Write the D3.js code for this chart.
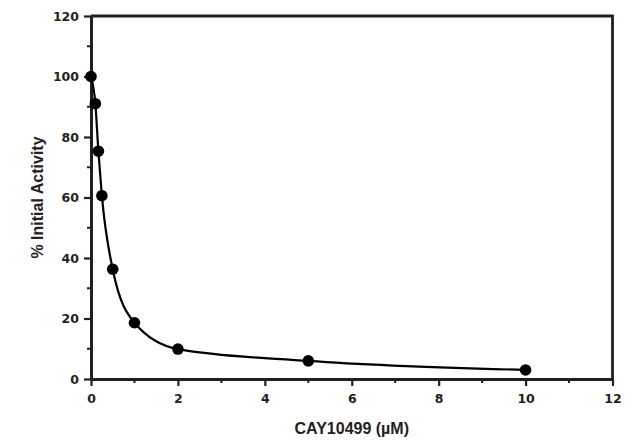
<!DOCTYPE html>
<html><head><meta charset="utf-8">
<script src="https://cdn.jsdelivr.net/npm/d3@7"></script>
<style>body{margin:0;background:#fff}svg{display:block}</style>
</head><body><div id="c"></div>
<script>
const concentration = [0, 0.1, 0.17, 0.25, 0.5, 1, 2, 5, 10];
const activity = [100, 91, 75.3, 60.6, 36.3, 18.6, 9.9, 6.0, 3.0];
const xTicks = [0, 2, 4, 6, 8, 10, 12];
const yTicks = [0, 20, 40, 60, 80, 100, 120];
const xMinor = [1, 3, 5, 7, 9, 11];
const yMinor = [10, 30, 50, 70, 90, 110];

const W = 640, H = 446;
const col = "#231f20";
const svg = d3.select("#c").append("svg").attr("width", W).attr("height", H);
const x = d3.scaleLinear().domain([0, 12]).range([91, 612.5]);
const y = d3.scaleLinear().domain([0, 120]).range([379, 16]);

// frame top/right
svg.append("path").attr("d", `M${x(0)},${y(120)}H${x(12)}V${y(0)}`)
  .attr("fill", "none").attr("stroke", col).attr("stroke-width", 2.8);

// minor ticks
svg.append("g").selectAll("line").data(xMinor).join("line")
  .attr("x1", d => x(d)).attr("x2", d => x(d)).attr("y1", y(0)).attr("y2", y(0) + 4)
  .attr("stroke", col).attr("stroke-width", 2);
svg.append("g").selectAll("line").data(yMinor).join("line")
  .attr("y1", d => y(d)).attr("y2", d => y(d)).attr("x1", x(0)).attr("x2", x(0) - 4)
  .attr("stroke", col).attr("stroke-width", 2);

const xAxis = svg.append("g").attr("transform", `translate(0,${y(0)})`)
  .call(d3.axisBottom(x).tickValues(xTicks).tickSize(7).tickPadding(8).tickSizeOuter(0));
const yAxis = svg.append("g").attr("transform", `translate(${x(0)},0)`)
  .call(d3.axisLeft(y).tickValues(yTicks).tickSize(7).tickPadding(5).tickSizeOuter(0));
[xAxis, yAxis].forEach(g => {
  g.select(".domain").attr("stroke", col).attr("stroke-width", 3);
  g.selectAll(".tick line").attr("stroke", col).attr("stroke-width", 2.2);
  g.selectAll(".tick text")
    .style("font-size", "12.5px").style("font-family", '"DejaVu Sans",sans-serif')
    .style("font-weight", "bold").style("fill", col);
});

// curve
const pts = concentration.map((c, i) => [c, activity[i]]);
svg.append("path").datum(pts)
  .attr("d", d3.line().x(d => x(d[0])).y(d => y(d[1])).curve(d3.curveMonotoneX))
  .attr("fill", "none").attr("stroke", "#000").attr("stroke-width", 2.2);

svg.append("g").selectAll("circle").data(pts).join("circle")
  .attr("cx", d => x(d[0])).attr("cy", d => y(d[1])).attr("r", 5.8).attr("fill", "#000");

const titleStyle = sel => sel.style("font-family", '"Liberation Sans",Arial,sans-serif')
  .style("font-weight", "bold").style("font-size", "16px").style("fill", col);
svg.append("text").attr("x", (x(0) + x(12)) / 2).attr("y", 434).attr("text-anchor", "middle")
  .call(titleStyle).text("CAY10499 (µM)");
svg.append("text").attr("transform", `translate(43,${(y(0) + y(120)) / 2}) rotate(-90)`)
  .attr("text-anchor", "middle").call(titleStyle).text("% Initial Activity");
</script></body></html>
